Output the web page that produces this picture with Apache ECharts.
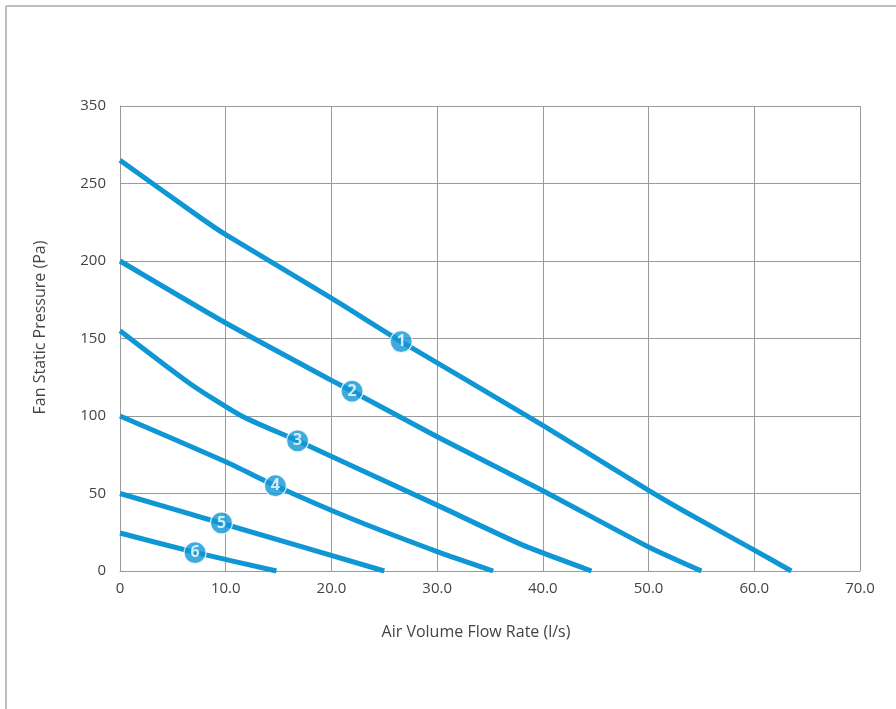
<!DOCTYPE html>
<html>
<head>
<meta charset="utf-8">
<script src="https://cdn.jsdelivr.net/npm/echarts@6/dist/echarts.min.js"></script>
<style>html,body{margin:0;padding:0;background:#fff}#c{width:896px;height:709px}</style>
</head>
<body>
<div id="c"></div>
<script>
// Data (x: l/s, y: Pa)
const curve1 = [[0,265],[7.6,228],[10,217],[20,176],[26.6,148],[40,94],[50,52],[53,40],[60,13.5],[63.5,0]];
const curve2 = [[0,200],[10,160],[20,123],[21.95,116],[30,86.6],[40,51.8],[50,15.5],[55,0]];
const curve3 = [[0,155],[6.6,121],[11.5,100],[16.8,84],[30,42.5],[38,17],[44.6,0]];
const curve4 = [[0,100],[10,70.5],[14.7,55],[21.8,34],[30,12.5],[35.3,0]];
const curve5 = [[0,50],[10,30],[25,0]];
const curve6 = [[0,24.5],[7.1,12],[14.8,0]];
const curveNames = ['1','2','3','4','5','6'];
const badgePositions = [[26.6,148],[21.95,116],[16.8,84],[14.7,55],[9.6,31],[7.1,11.8]];
const yTickLabels = ['0','50','100','150','200','250','350'];
const xTickLabels = ['0','10.0','20.0','30.0','40.0','50.0','60.0','70.0'];

const curves = [curve1, curve2, curve3, curve4, curve5, curve6];
const blue = '#0f96d4';
const gray = '#9a9a9a';
const font = '"Open Sans", "Noto Sans", sans-serif';

const series = curves.map((d, i) => ({
  type: 'line', name: curveNames[i], data: d, symbol: 'none', smooth: 0.2,
  lineStyle: { color: blue, width: 5, cap: 'butt', join: 'round' }, z: 2
}));
series.push({
  type: 'scatter',
  data: badgePositions.map((p, i) => ({ value: p, name: curveNames[i] })),
  symbol: 'circle', symbolSize: 22,
  itemStyle: { color: blue, borderColor: '#fff', borderWidth: 1.2 },
  label: { show: true, position: 'inside', formatter: p => p.name, color: '#fff',
    fontFamily: font, fontSize: 16, fontWeight: 'bold' },
  z: 5
});

const chart = echarts.init(document.getElementById('c'), null, { renderer: 'canvas' });
chart.setOption({
  animation: false,
  backgroundColor: '#fff',
  grid: { left: 120, right: 36, top: 106, bottom: 138, containLabel: false },
  xAxis: {
    type: 'value', min: 0, max: 70, interval: 10,
    name: 'Air Volume Flow Rate (l/s)', nameLocation: 'middle', nameGap: 53,
    nameTextStyle: { color: '#444', fontSize: 16, fontFamily: font, padding: [0, 28, 0, 0] },
    axisLine: { show: true, lineStyle: { color: gray, width: 1 } },
    axisTick: { show: false },
    axisLabel: { color: '#444', fontSize: 15, fontFamily: font, margin: 10,
      formatter: v => xTickLabels[Math.round(v / 10)] },
    splitLine: { show: true, lineStyle: { color: gray, width: 1 } }
  },
  yAxis: {
    type: 'value', min: 0, max: 300, interval: 50,
    name: 'Fan Static Pressure (Pa)', nameLocation: 'middle', nameGap: 72, nameRotate: 90,
    nameTextStyle: { color: '#444', fontSize: 16, fontFamily: font, padding: [0, 0, 0, 22] },
    axisLine: { show: true, lineStyle: { color: gray, width: 1 } },
    axisTick: { show: false },
    axisLabel: { color: '#444', fontSize: 15, fontFamily: font, margin: 14,
      formatter: v => yTickLabels[Math.round(v / 50)] },
    splitLine: { show: true, lineStyle: { color: gray, width: 1 } }
  },
  graphic: [
    { type: 'line', shape: { x1: 6, y1: 6, x2: 896, y2: 6 }, style: { stroke: '#aaa', lineWidth: 1.5 } },
    { type: 'line', shape: { x1: 6, y1: 6, x2: 6, y2: 709 }, style: { stroke: '#aaa', lineWidth: 1.5 } }
  ],
  series: series
});
</script>
</body>
</html>
